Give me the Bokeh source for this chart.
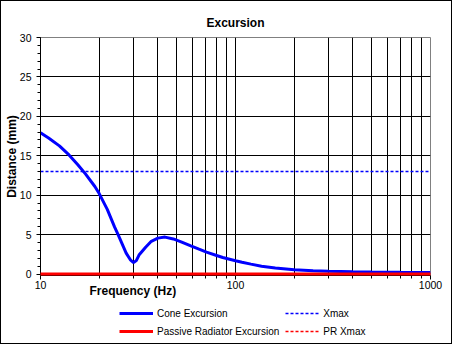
from bokeh.plotting import figure
from bokeh.layouts import column
from bokeh.models import (Range1d, FixedTicker, SingleIntervalTicker, Legend, LegendItem,
                          NumeralTickFormatter, ColumnDataSource, Title)
from bokeh.embed import file_html
from bokeh.resources import INLINE

# ---- data ----
freq_hz = [10, 11, 12.5, 14, 15.5, 17, 19, 20, 22, 24, 25, 27.5, 29, 30, 31, 32, 34.6, 37,
           40, 43.5, 48, 53, 59, 65, 71, 80, 86, 100, 108, 120, 136, 160, 200, 250, 300,
           400, 500, 700, 1000]
cone_mm = [17.9, 17.25, 16.25, 15.1, 13.9, 12.7, 11.1, 10.2, 8.2, 5.95, 5.0, 2.65, 1.75, 1.45,
           1.7, 2.4, 3.4, 4.15, 4.55, 4.68, 4.45, 4.05, 3.57, 3.15, 2.77, 2.35, 2.09, 1.68,
           1.49, 1.25, 0.98, 0.76, 0.53, 0.42, 0.36, 0.28, 0.24, 0.21, 0.2]
pr_mm = [0.0] * len(freq_hz)
xmax_freq = [10, 1000]
xmax_mm = [13, 13]
pr_xmax_mm = [0, 0]

series_names = ["Cone Excursion", "Passive Radiator Excursion", "Xmax", "PR Xmax"]

x_major_ticks = [10, 100, 1000]
x_minor_ticks = [20, 30, 40, 50, 60, 70, 80, 90, 200, 300, 400, 500, 600, 700, 800, 900]
x_grid_ticks = [20, 30, 40, 50, 60, 70, 80, 90, 100, 200, 300, 400, 500, 600, 700, 800, 900]
y_grid_ticks = [5, 10, 15, 20, 25]

FONT = "Liberation Sans"
BLUE = "#0000FF"
RED = "#FF0000"
DASH_W = 1.5

p = figure(width=450, height=300, x_axis_type="log",
           x_range=Range1d(10, 1000), y_range=Range1d(-0.19, 30),
           output_backend="svg", toolbar_location=None,
           min_border_left=39, min_border_right=21, min_border_top=36, min_border_bottom=26)
p.background_fill_color = "white"
p.border_fill_color = "white"
p.outline_line_color = "#808080"
p.outline_line_width = 1

# title
p.title.text = "Excursion"
p.title.align = "center"
p.title.text_font = FONT
p.title.text_font_size = "12px"
p.title.text_font_style = "bold"
p.title.text_color = "black"
p.title.standoff = 16

# grids
p.xgrid.ticker = FixedTicker(ticks=x_grid_ticks)
p.ygrid.ticker = FixedTicker(ticks=y_grid_ticks)
for g in (p.xgrid, p.ygrid):
    g.grid_line_color = "black"
    g.grid_line_width = 1

# axes
xa = p.xaxis[0]
xa.ticker = FixedTicker(ticks=x_major_ticks, minor_ticks=x_minor_ticks)
xa.formatter = NumeralTickFormatter(format="0")
ya = p.yaxis[0]
ya.ticker = SingleIntervalTicker(interval=5, num_minor_ticks=5)
for ax in (xa, ya):
    ax.axis_line_color = "black"
    ax.major_tick_line_color = "black"
    ax.minor_tick_line_color = "black"
    ax.major_tick_in = 0
    ax.major_tick_out = 4
    ax.minor_tick_in = 0
    ax.minor_tick_out = 3
    ax.major_label_text_font = FONT
    ax.major_label_text_font_size = "10.5px"
    ax.major_label_text_color = "black"
xa.major_label_standoff = 1
ya.major_label_standoff = 5
ya.axis_label = "Distance (mm)"
ya.axis_label_text_font = FONT
ya.axis_label_text_font_size = "12px"
ya.axis_label_text_font_style = "bold"
ya.axis_label_text_color = "black"
ya.axis_label_standoff = -2

src = ColumnDataSource(dict(f=freq_hz, cone=cone_mm, pr=pr_mm))
p.line(xmax_freq, xmax_mm, line_color=BLUE, line_alpha=1.0, line_width=DASH_W, line_dash="3 2")
p.line("f", "cone", source=src, line_color=BLUE, line_width=3)
p.line("f", "pr", source=src, line_color=RED, line_width=3, level="overlay")
p.line(xmax_freq, pr_xmax_mm, line_color=RED, line_alpha=1.0, line_width=DASH_W, line_dash="3 2")

# x axis title, left-ish as in the reference
xt = Title(text="Frequency (Hz)", align="left", offset=49, vertical_align="top",
           standoff=-16, text_font=FONT, text_font_size="12px", text_font_style="bold",
           text_color="black")
p.add_layout(xt, "below")

# ---- legend strip (own small figure; its series lie outside its ranges, only swatches show) ----
q = figure(width=450, height=42, x_range=Range1d(0, 1), y_range=Range1d(0, 1),
           output_backend="svg", toolbar_location=None, min_border=0,
           x_axis_location=None, y_axis_location=None)
q.outline_line_color = None
q.border_fill_color = "white"
q.background_fill_color = "white"
q.grid.visible = False
s_cone = q.line(freq_hz, cone_mm, line_color=BLUE, line_width=3)
s_pr = q.line(freq_hz, pr_mm, line_color=RED, line_width=3)
s_xmax = q.line(xmax_freq, xmax_mm, line_color=BLUE, line_alpha=1.0, line_width=DASH_W,
                line_dash="3 2")
s_prx = q.line(xmax_freq, pr_xmax_mm, line_color=RED, line_alpha=1.0, line_width=DASH_W,
               line_dash="3 2")

lg = Legend(items=[LegendItem(label=series_names[0], renderers=[s_cone]),
                   LegendItem(label=series_names[2], renderers=[s_xmax]),
                   LegendItem(label=series_names[1], renderers=[s_pr]),
                   LegendItem(label=series_names[3], renderers=[s_prx])],
            location=(79, 6), orientation="horizontal", ncols=2)
lg.padding = 0
lg.margin = 0
lg.border_line_color = None
lg.background_fill_alpha = 0
lg.glyph_width = 34
lg.glyph_height = 12
lg.label_height = 12
lg.spacing = 6
lg.label_standoff = 4
lg.label_text_font = FONT
lg.label_text_font_size = "10px"
lg.label_text_color = "black"
q.add_layout(lg)

lay = column(p, q, spacing=0)
lay.styles = {"border": "1px solid black", "background-color": "white"}

open("out.html", "w").write(file_html(lay, INLINE))
